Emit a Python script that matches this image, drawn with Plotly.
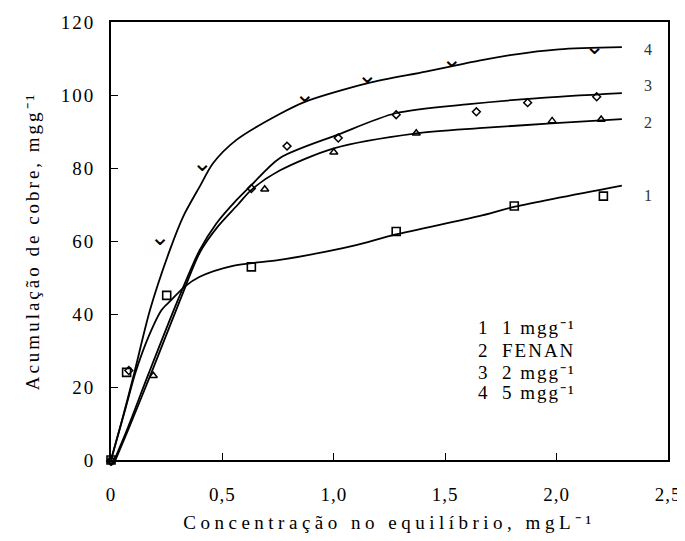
import plotly.graph_objects as go

# ---- measured points ----
s1_x = [0, 0.07, 0.25, 0.63, 1.28, 1.81, 2.21]
s1_y = [0, 24.0, 45.1, 52.9, 62.6, 69.6, 72.3]

s2_x = [0, 0.19, 0.69, 1.00, 1.37, 1.98, 2.20]
s2_y = [0, 23.1, 74.2, 84.3, 89.5, 92.9, 93.3]

s3_x = [0, 0.08, 0.63, 0.79, 1.02, 1.28, 1.64, 1.87, 2.18]
s3_y = [0, 24.5, 74.4, 86.0, 88.2, 94.6, 95.4, 97.9, 99.5]

s4_x = [0, 0.22, 0.41, 0.87, 1.15, 1.53, 2.17]
s4_y = [0, 60.6, 80.8, 99.8, 104.8, 109.4, 112.8]

# ---- fitted curves ----
c1_x = [0, 0.06, 0.11, 0.17, 0.227, 0.27, 0.331, 0.398, 0.547, 0.757, 0.965, 1.10, 1.279, 1.652, 1.813, 2.293]
c1_y = [0, 13.0, 24.0, 34.0, 41.1, 43.8, 47.5, 50.2, 53.2, 54.8, 57.1, 58.9, 61.8, 66.8, 69.4, 75.2]

c2_x = [0.02, 0.075, 0.182, 0.31, 0.40, 0.48, 0.57, 0.63, 0.757, 1.00, 1.371, 1.652, 1.975, 2.293]
c2_y = [0, 8.0, 24.0, 43.8, 57.0, 64.0, 70.0, 74.0, 79.3, 85.4, 89.5, 90.9, 92.2, 93.4]

c3_x = [0.015, 0.07, 0.171, 0.30, 0.398, 0.473, 0.563, 0.63, 0.757, 1.021, 1.277, 1.607, 1.906, 2.293]
c3_y = [0, 8.0, 24.0, 43.8, 57.5, 64.8, 71.2, 75.3, 82.7, 89.2, 95.0, 97.5, 99.1, 100.5]

c4_x = [0, 0.05, 0.105, 0.175, 0.264, 0.324, 0.398, 0.458, 0.563, 0.757, 0.873, 1.149, 1.413, 1.652, 1.80, 2.01, 2.293]
c4_y = [0, 11.0, 24.0, 41.1, 57.5, 66.7, 74.9, 81.3, 87.7, 94.8, 98.2, 103.2, 106.4, 109.4, 111.0, 112.5, 113.1]

x_tickvals = [0, 0.5, 1.0, 1.5, 2.0, 2.5]
x_ticklabels = ["0", "0,5", "1,0", "1,5", "2,0", "2,5"]
y_tickvals = [0, 20, 40, 60, 80, 100, 120]
y_ticklabels = ["0", "20", "40", "60", "80", "100", "120"]

curve_labels = ["1", "2", "3", "4"]
curve_label_x = [2.41, 2.41, 2.41, 2.41]
curve_label_y = [72.6, 92.6, 102.7, 112.6]

legend_nums = ["1", "2", "3", "4"]
legend_texts = ["1 mgg\u207b\u00b9", "FENAN", "2 mgg\u207b\u00b9", "5 mgg\u207b\u00b9"]
legend_y = [36.2, 30.1, 24.1, 18.4]

x_title = "Concentração no equilíbrio, mgL\u207b\u00b9"
y_title = "Acumulação de cobre, mgg\u207b\u00b9"

SERIF = "Liberation Serif, Times New Roman, serif"


def spaced(t, px):
    return "<span style='letter-spacing:%spx'>%s</span>" % (px, t)


fig = go.Figure()

for cx, cy in [(c1_x, c1_y), (c2_x, c2_y), (c3_x, c3_y), (c4_x, c4_y)]:
    fig.add_trace(go.Scatter(x=cx, y=cy, mode="lines",
                             line=dict(color="black", width=1.8, shape="spline", smoothing=0.8),
                             showlegend=False, hoverinfo="skip", cliponaxis=False))

fig.add_trace(go.Scatter(x=s1_x, y=s1_y, mode="markers",
                         marker=dict(symbol="square-open", size=8, color="black", line=dict(width=1.6)),
                         showlegend=False, cliponaxis=False))
fig.add_trace(go.Scatter(x=s2_x, y=s2_y, mode="markers",
                         marker=dict(symbol="triangle-up-open", size=7, color="black", line=dict(width=1.5)),
                         showlegend=False, cliponaxis=False))
fig.add_trace(go.Scatter(x=s3_x, y=s3_y, mode="markers",
                         marker=dict(symbol="diamond-open", size=6, color="black", line=dict(width=1.5)),
                         showlegend=False, cliponaxis=False))
fig.add_trace(go.Scatter(x=s4_x, y=s4_y, mode="text", text=["\u2304"] * len(s4_x),
                         textposition="middle center",
                         textfont=dict(family="DejaVu Sans", size=24, color="black"),
                         showlegend=False, cliponaxis=False))

for t, x, y in zip(curve_labels, curve_label_x, curve_label_y):
    fig.add_annotation(x=x, y=y, text=t, showarrow=False, xanchor="center", yanchor="middle",
                       font=dict(family=SERIF, size=16, color="#333333"))

for n, t, y in zip(legend_nums, legend_texts, legend_y):
    fig.add_annotation(x=1.64, y=y, text=n, showarrow=False, xanchor="left", yanchor="middle",
                       font=dict(family=SERIF, size=19, color="black"))
    fig.add_annotation(x=1.744, y=y, text=spaced(t, 2), showarrow=False, xanchor="left", yanchor="middle",
                       font=dict(family=SERIF, size=19, color="black"))

fig.update_layout(
    width=677, height=525,
    margin=dict(l=103, r=17, t=14, b=73),
    plot_bgcolor="white", paper_bgcolor="white",
    font=dict(family=SERIF, color="black"),
    xaxis=dict(range=[0, 2.5], tickvals=x_tickvals, ticktext=[spaced(t, 1) for t in x_ticklabels],
               automargin=False, ticklabeloverflow="allow",
               ticks="inside", ticklen=7, tickwidth=1.2, tickcolor="black",
               showline=True, linecolor="black", linewidth=2, mirror=True,
               showgrid=False, zeroline=False, ticklabelstandoff=16,
               tickfont=dict(family=SERIF, size=19, color="black"),
               title=dict(text=spaced(x_title, 4.5),
                          font=dict(family=SERIF, size=19, color="black"), standoff=23)),
    yaxis=dict(range=[0, 120], tickvals=y_tickvals, ticktext=[spaced(t, 2) for t in y_ticklabels],
               automargin=False, ticklabeloverflow="allow",
               ticks="inside", ticklen=7, tickwidth=1.2, tickcolor="black",
               showline=True, linecolor="black", linewidth=2, mirror=True,
               showgrid=False, zeroline=False, ticklabelstandoff=10,
               tickfont=dict(family=SERIF, size=19, color="black"),
               title=dict(text=spaced(y_title, 3),
                          font=dict(family=SERIF, size=19, color="black"), standoff=16)),
)

fig.write_html("out.html")
